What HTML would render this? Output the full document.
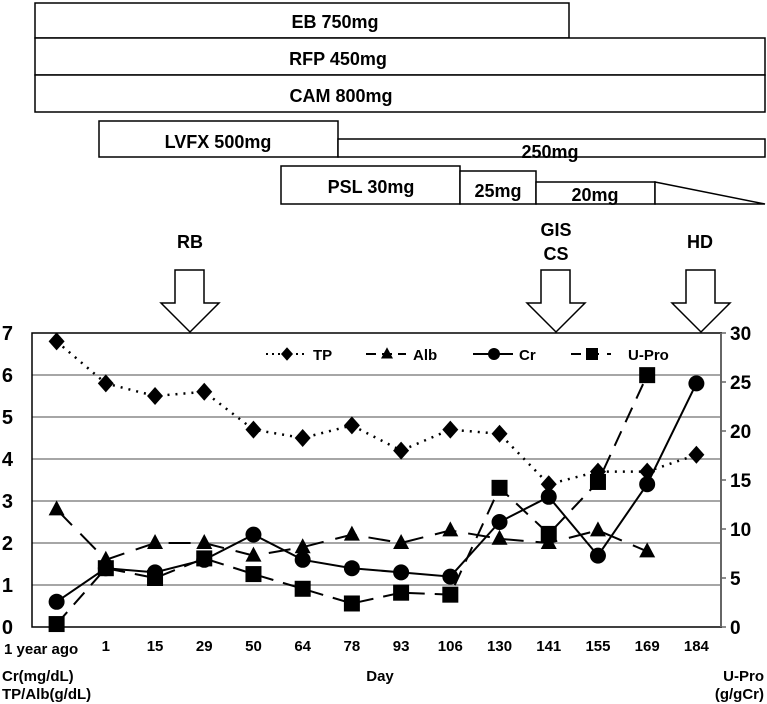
<!DOCTYPE html>
<html><head><meta charset="utf-8"><style>
body{margin:0;background:#fff}
svg{display:block;font-family:"Liberation Sans",Arial,sans-serif;font-weight:bold}
</style></head><body>
<svg id="c" width="767" height="704" viewBox="0 0 767 704">
<g fill="#fff" stroke="#000" stroke-width="1.5">
<rect x="35" y="3" width="534" height="35"/>
<rect x="35" y="38" width="730" height="37"/>
<rect x="35" y="75" width="730" height="37"/>
<rect x="99" y="121" width="239" height="36"/>
<rect x="338" y="139" width="427" height="18"/>
<rect x="281" y="166" width="179" height="38"/>
<rect x="460" y="171" width="76" height="33"/>
<rect x="536" y="182" width="119" height="22"/>
<path d="M655 182 L765 204 L655 204 Z"/>
</g>
<g font-size="18" text-anchor="middle" fill="#000">
<text x="335" y="28">EB 750mg</text>
<text x="338" y="65">RFP 450mg</text>
<text x="341" y="102">CAM 800mg</text>
<text x="218" y="148">LVFX 500mg</text>
<text x="550" y="158">250mg</text>
<text x="371" y="193">PSL 30mg</text>
<text x="498" y="197">25mg</text>
<text x="595" y="201">20mg</text>
<text x="190" y="248">RB</text>
<text x="556" y="236">GIS</text>
<text x="556" y="260">CS</text>
<text x="700" y="248">HD</text>
</g>
<g fill="#fff" stroke="#000" stroke-width="1.5">
<path d="M175 270 H204 V303 H219 L190 332 L161 303 H175 Z"/>
<path d="M541 270 H570 V303 H585 L556 332 L527 303 H541 Z"/>
<path d="M686 270 H715 V303 H730 L701 332 L672 303 H686 Z"/>
</g>
<g id="plot"></g>
</svg>
<script>
const categories=["1 year ago","1","15","29","50","64","78","93","106","130","141","155","169","184"];
const tpValues=[6.8,5.8,5.5,5.6,4.7,4.5,4.8,4.2,4.7,4.6,3.4,3.7,3.7,4.1];
const albValues=[2.8,1.6,2.0,2.0,1.7,1.9,2.2,2.0,2.3,2.1,2.0,2.3,1.8,null];
const crValues=[0.6,1.4,1.3,1.6,2.2,1.6,1.4,1.3,1.2,2.5,3.1,1.7,3.4,5.8];
const uproValues=[0.3,6.0,5.0,7.0,5.4,3.9,2.4,3.5,3.3,14.2,9.5,14.8,25.7,null];
const leftTicks=[0,1,2,3,4,5,6,7];
const rightTicks=[0,5,10,15,20,25,30];

const NS="http://www.w3.org/2000/svg";
const g=document.getElementById('plot');
const L=32,R=721,T=333,B=627;
const xs=i=>L+(R-L)/categories.length*(i+0.5);
const yl=v=>B-(B-T)*v/7;
const yr=v=>B-(B-T)*v/30;
function el(t,a,p){const e=document.createElementNS(NS,t);for(const k in a)e.setAttribute(k,a[k]);(p||g).appendChild(e);return e;}

leftTicks.forEach(v=>{
 if(v>0&&v<7){const ln=el('line',{x1:L,x2:R,y1:yl(v),y2:yl(v),stroke:'#888','stroke-width':1.5});
 
 }
 const t=el('text',{x:13,y:yl(v)+7,'font-size':20,'text-anchor':'end',fill:'#000'});t.textContent=v;
 
 
});
rightTicks.forEach(v=>{
 const tk=el('line',{x1:R,x2:R+5,y1:yr(v),y2:yr(v),stroke:'#666','stroke-width':1.5});
 
 
 const t=el('text',{x:730,y:yr(v)+7,'font-size':19,fill:'#000'});t.textContent=v;
 
 
});
const frame=el('rect',{x:L,y:T,width:R-L,height:B-T,fill:'none',stroke:'#000','stroke-width':1.5});


const ra=el('line',{x1:R,x2:R,y1:T,y2:B,stroke:'#666','stroke-width':2});


categories.forEach((c,i)=>{
 const t=el('text',{x:i==0?4:xs(i),y:i==0?654:651,'font-size':15,'text-anchor':i==0?'start':'middle',fill:'#000'});t.textContent=c;
 
 
});

function series(vals,yf,dash,marker,name){
 const pts=[];vals.forEach((v,i)=>{if(v!=null)pts.push([xs(i),yf(v)]);});
 const p=el('polyline',{points:pts.map(p=>p.join(',')).join(' '),fill:'none',stroke:'#000','stroke-width':dash=='2,6'?2.5:2,'stroke-dasharray':dash});
 
 
 pts.forEach(([x,y])=>{const m=drawMarker(marker,x,y,1);
 
 });
}
function drawMarker(k,x,y,s){
 if(k=='d')return el('path',{d:`M${x} ${y-9*s}L${x+8*s} ${y}L${x} ${y+9*s}L${x-8*s} ${y}Z`,fill:'#000'});
 if(k=='t')return el('path',{d:`M${x} ${y-9*s}L${x+8*s} ${y+6*s}L${x-8*s} ${y+6*s}Z`,fill:'#000'});
 if(k=='c')return el('circle',{cx:x,cy:y,r:8*s,fill:'#000'});
 return el('rect',{x:x-8*s,y:y-8*s,width:16*s,height:16*s,fill:'#000'});
}
series(tpValues,yl,'2,6','d','tp');
series(albValues,yl,'22,12','t','alb');
series(crValues,yl,'','c','cr');
series(uproValues,yr,'16,10','s','upro');

const leg=[['TP','2,4','d',266,313],['Alb','10,6','t',366,413],['Cr','','c',473,519],['U-Pro','10,8','s',571,628]];
leg.forEach(([n,d,m,x1,tx])=>{
 const ln=el('line',{x1:x1,x2:x1+40,y1:354,y2:354,stroke:'#000','stroke-width':2,'stroke-dasharray':d});
 
 
 const mk=drawMarker(m,x1+21,354,0.75);
 
 
 const t=el('text',{x:tx,y:360,'font-size':15,fill:'#000'});t.textContent=n;
 
 
});
[['Cr(mg/dL)',2,681,'start'],['TP/Alb(g/dL)',2,699,'start'],['Day',380,681,'middle'],['U-Pro',764,681,'end'],['(g/gCr)',764,699,'end']].forEach(([s,x,y,a])=>{
 const t=el('text',{x:x,y:y,'font-size':15,'text-anchor':a,fill:'#000'});t.textContent=s;
 
 
});
</script>
</body></html>
